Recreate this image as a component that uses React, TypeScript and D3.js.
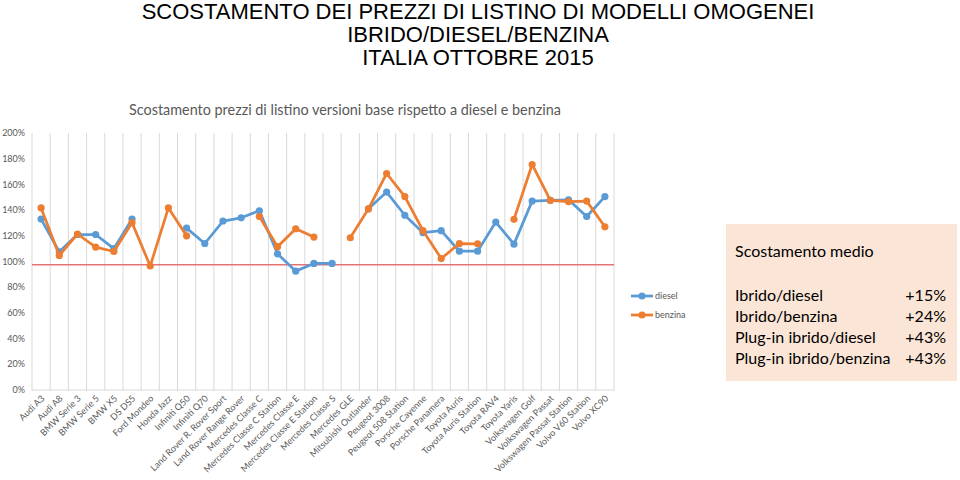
import React from "react";
import * as d3 from "d3";

const categories = [
  "Audi A3", "Audi A8", "BMW Serie 3", "BMW Serie 5", "BMW X5", "DS DS5", "Ford Mondeo", "Honda Jazz",
  "Infiniti Q50", "Infiniti Q70", "Land Rover R. Rover Sport", "Land Rover Range Rover", "Mercedes Classe C",
  "Mercedes Classe C Station", "Mercedes Classe E", "Mercedes Classe E Station", "Mercedes Classe S",
  "Mercedes GLE", "Mitsubishi Outlander", "Peugeot 3008", "Peugeot 508 Station", "Porsche Cayenne",
  "Porsche Panamera", "Toyota Auris", "Toyota Auris Station", "Toyota RAV4", "Toyota Yaris",
  "Volkswagen Golf", "Volkswagen Passat", "Volkswagen Passat Station", "Volvo V60 Station", "Volvo XC90",
];

const diesel: (number | null)[] = [
  1.33, 1.075, 1.21, 1.21, 1.10, 1.33, null, null,
  1.26, 1.14, 1.315, 1.34, 1.395,
  1.06, 0.925, 0.985, 0.985,
  null, 1.41, 1.54, 1.36, 1.224,
  1.24, 1.08, 1.08, 1.307, 1.135,
  1.47, 1.476, 1.48, 1.35, 1.505,
];

const benzina: (number | null)[] = [
  1.417, 1.047, 1.214, 1.112, 1.078, 1.302, 0.965, 1.417,
  1.20, null, null, null, 1.35,
  1.115, 1.255, 1.19, null,
  1.185, 1.41, 1.685, 1.505, 1.24,
  1.023, 1.14, 1.138, null, 1.328,
  1.755, 1.476, 1.466, 1.47, 1.27,
];

const yTicks = [0, 0.2, 0.4, 0.6, 0.8, 1.0, 1.2, 1.4, 1.6, 1.8, 2.0];
const refValue = 0.975;

const titleLines = ["SCOSTAMENTO DEI PREZZI DI LISTINO DI MODELLI OMOGENEI", "IBRIDO/DIESEL/BENZINA", "ITALIA OTTOBRE 2015"];
const subtitle = "Scostamento prezzi di listino versioni base rispetto a diesel e benzina";
const seriesNames = ["diesel", "benzina"];
const boxTitle = "Scostamento medio";
const boxLabels = ["Ibrido/diesel", "Ibrido/benzina", "Plug-in ibrido/diesel", "Plug-in ibrido/benzina"];
const boxValues = ["+15%", "+24%", "+43%", "+43%"];

const BLUE = "#5b9bd5";
const ORANGE = "#ed7d31";
const GRAY = "#595959";
const FONT = "Lato, 'Open Sans', sans-serif";

export default function App() {
  const x = d3.scaleBand<string>().domain(categories).range([32, 614]).padding(0);
  const y = d3.scaleLinear().domain([0, 2]).range([390, 133]);
  const cx = (c: string) => (x(c) as number) + x.bandwidth() / 2;

  const line = d3
    .line<number | null>()
    .defined((d) => d !== null)
    .x((_, i) => cx(categories[i]))
    .y((d) => y(d as number));

  const series = [
    { name: seriesNames[0], data: diesel, color: BLUE },
    { name: seriesNames[1], data: benzina, color: ORANGE },
  ];

  const gridXs = categories.map((c) => x(c) as number).concat([614]);

  return (
    <svg
      width={960}
      height={480}
      style={{ position: "absolute", left: 0, top: 0, background: "#fff" }}
    >
      {titleLines.map((t, i) => (
        <text
          key={t}
          x={478}
          y={18.5 + i * 23}
          textAnchor="middle"
          fontFamily="'Liberation Sans', Arial, sans-serif"
          fontSize={22}
          fill="#000"
        >
          {t}
        </text>
      ))}
      <text x={129} y={115} fontFamily={FONT} fontSize={14.4} fill={GRAY}>
        {subtitle}
      </text>

      {/* gridlines */}
      {gridXs.map((gx, i) => (
        <line key={i} x1={gx} x2={gx} y1={y(2)} y2={y(0) + 1} stroke="#d9d9d9" strokeWidth={1} />
      ))}
      <line x1={32} x2={614} y1={y(0)} y2={y(0)} stroke="#d9d9d9" strokeWidth={1} />

      {/* y axis labels */}
      {yTicks.map((t) => (
        <text
          key={t}
          x={25}
          y={y(t)}
          dy="0.35em"
          textAnchor="end"
          fontFamily={FONT}
          fontSize={9}
          fill={GRAY}
        >
          {d3.format(".0%")(t)}
        </text>
      ))}

      {/* x labels */}
      {categories.map((c) => {
        const px = cx(c) + 4;
        const py = 399;
        return (
          <text
            key={c}
            x={px}
            y={py}
            textAnchor="end"
            transform={`rotate(-45 ${px} ${py})`}
            fontFamily={FONT}
            fontSize={9}
            fill={GRAY}
          >
            {c}
          </text>
        );
      })}

      {/* reference line */}
      <line x1={32} x2={614} y1={y(refValue)} y2={y(refValue)} stroke="#e57373" strokeWidth={1.5} />

      {/* series */}
      {series.map((s) => (
        <g key={s.name}>
          <path d={line(s.data) || ""} fill="none" stroke={s.color} strokeWidth={2.75} strokeLinejoin="round" />
          {s.data.map((v, i) =>
            v === null ? null : <circle key={i} cx={cx(categories[i])} cy={y(v)} r={3.6} fill={s.color} />
          )}
        </g>
      ))}

      {/* legend */}
      {series.map((s, i) => {
        const ly = 296 + i * 19;
        return (
          <g key={s.name}>
            <line x1={631} x2={653} y1={ly} y2={ly} stroke={s.color} strokeWidth={2.75} />
            <circle cx={642} cy={ly} r={3.6} fill={s.color} />
            <text x={655} y={ly} dy="0.35em" fontFamily={FONT} fontSize={9} fill={GRAY}>
              {s.name}
            </text>
          </g>
        );
      })}

      {/* info box */}
      <rect x={726} y={224} width={231} height={157} fill="#fbe5d6" />
      <text x={735} y={257} fontFamily={FONT} fontSize={16} fill="#000">
        {boxTitle}
      </text>
      {boxLabels.map((l, i) => (
        <g key={l}>
          <text x={735} y={301 + i * 21} fontFamily={FONT} fontSize={16} fill="#000">
            {l}
          </text>
          <text x={946} y={301 + i * 21} textAnchor="end" fontFamily={FONT} fontSize={16} fill="#000">
            {boxValues[i]}
          </text>
        </g>
      ))}
    </svg>
  );
}
